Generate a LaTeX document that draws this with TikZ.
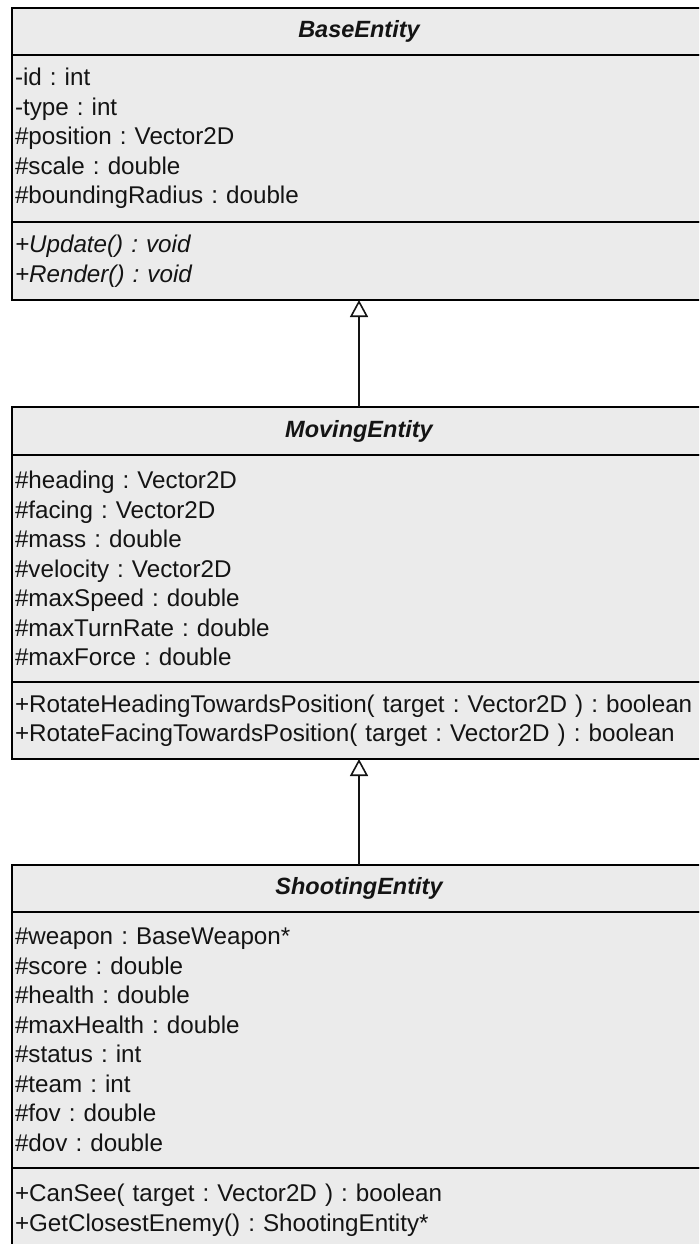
\documentclass[tikz,border=0pt]{standalone}
\usepackage{xcolor}
\usepackage{fontspec}
\setmainfont{Liberation Sans}
\usepackage{tikz}
\usetikzlibrary{positioning,shapes,arrows.meta}
\definecolor{classfill}{RGB}{235,235,235}
\definecolor{classtext}{RGB}{20,20,20}

\begin{document}
\begin{tikzpicture}[x=1pt, y=-1pt,
							head/.style = {draw, line width=1.4pt, outer sep=0pt, inner sep=0pt, fill=classfill, text=classtext, minimum width=694pt, minimum height=47pt, font=\fontsize{23.5}{28}\selectfont\bfseries\itshape},
							part/.style = {draw, line width=1.4pt, outer sep=0pt, inner xsep=3pt, inner ysep=0pt, fill=classfill, text=classtext, text width=688pt, align=left, font=\fontsize{24.2}{29.5}\selectfont\frenchspacing},
							inherit/.style = {-{Triangle[open, length=17pt, width=18pt]}, line width=1.6pt, draw=classtext}]
			\useasboundingbox (0,0) rectangle (699,1244);
			\clip (0,0) rectangle (699,1244);

			% BaseEntity
			\node[head] (base) at (359, 31.5) {BaseEntity};
			\node[part, minimum height=167pt, below=0pt of base] (base-attr) {-id : int\\-type : int\\\#position : Vector2D\\\#scale : double\\\#boundingRadius : double};
			\node[part, minimum height=78pt, below=0pt of base-attr, font=\fontsize{24.2}{29.5}\selectfont\frenchspacing\itshape] (base-ops) {+Update() : void\\+Render() : void};

			% MovingEntity
			\node[head, minimum height=48pt, below=107pt of base-ops] (moving) {MovingEntity};
			\node[part, minimum height=227pt, below=0pt of moving] (moving-attr) {\#heading : Vector2D\\\#facing : Vector2D\\\#mass : double\\\#velocity : Vector2D\\\#maxSpeed : double\\\#maxTurnRate : double\\\#maxForce : double};
			\node[part, minimum height=77pt, below=0pt of moving-attr] (moving-ops) {+RotateHeadingTowardsPosition( target : Vector2D ) : boolean\\+RotateFacingTowardsPosition( target : Vector2D ) : boolean};

			% ShootingEntity
			\node[head, below=106pt of moving-ops] (shooting) {ShootingEntity};
			\node[part, minimum height=256pt, below=0pt of shooting] (shooting-attr) {\#weapon : BaseWeapon*\\\#score : double\\\#health : double\\\#maxHealth : double\\\#status : int\\\#team : int\\\#fov : double\\\#dov : double};
			\node[part, minimum height=84pt, below=0pt of shooting-attr] (shooting-ops) {+CanSee( target : Vector2D ) : boolean\\+GetClosestEnemy() : ShootingEntity*};

			\draw[inherit] (moving.north) to (base-ops.south);
			\draw[inherit] (shooting.north) to (moving-ops.south);
		\end{tikzpicture}
\end{document}
